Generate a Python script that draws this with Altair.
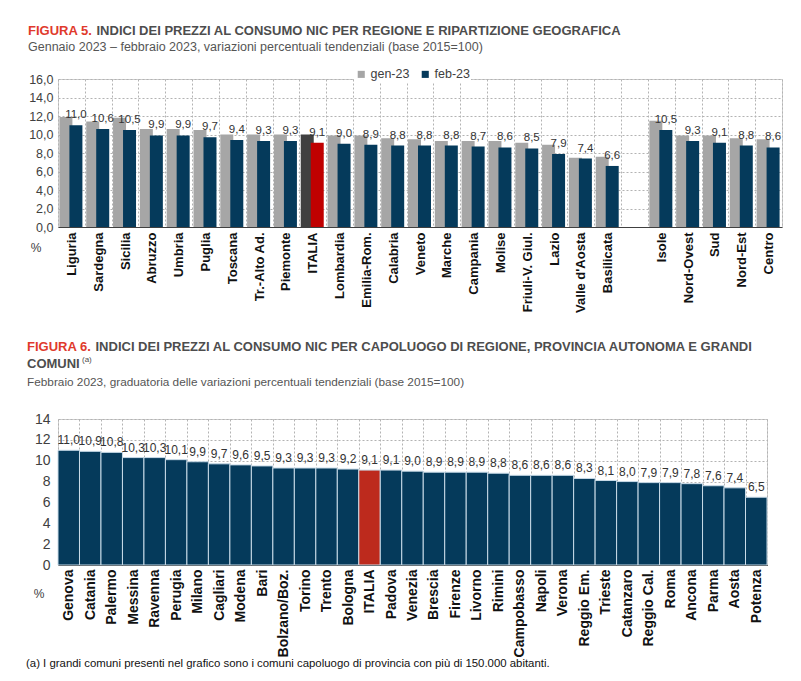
import altair as alt
import pandas as pd

# ---------------- data: Figura 5 ----------------
regioni = ["Liguria", "Sardegna", "Sicilia", "Abruzzo", "Umbria", "Puglia", "Toscana",
           "Tr.-Alto Ad.", "Piemonte", "ITALIA", "Lombardia", "Emilia-Rom.", "Calabria",
           "Veneto", "Marche", "Campania", "Molise", "Friuli-V. Giul.", "Lazio",
           "Valle d'Aosta", "Basilicata", " ", "Isole", "Nord-Ovest", "Sud", "Nord-Est", "Centro"]
gen23 = [11.9, 11.4, 11.8, 10.6, 10.6, 10.5, 10.0, 10.0, 10.0, 10.0, 9.9, 9.9, 9.6,
         9.5, 9.3, 9.3, 9.3, 9.1, 8.9, 7.5, 7.6, None, 11.5, 9.9, 9.9, 9.6, 9.5]
feb23 = [11.0, 10.6, 10.5, 9.9, 9.9, 9.7, 9.4, 9.3, 9.3, 9.1, 9.0, 8.9, 8.8,
         8.8, 8.8, 8.7, 8.6, 8.5, 7.9, 7.4, 6.6, None, 10.5, 9.3, 9.1, 8.8, 8.6]
serie = ["gen-23", "feb-23"]

# ---------------- data: Figura 6 ----------------
comuni = ["Genova", "Catania", "Palermo", "Messina", "Ravenna", "Perugia", "Milano",
          "Cagliari", "Modena", "Bari", "Bolzano/Boz.", "Torino", "Trento", "Bologna",
          "ITALIA", "Padova", "Venezia", "Brescia", "Firenze", "Livorno", "Rimini",
          "Campobasso", "Napoli", "Verona", "Reggio Em.", "Trieste", "Catanzaro",
          "Reggio Cal.", "Roma", "Ancona", "Parma", "Aosta", "Potenza"]
feb23_comuni = [11.0, 10.9, 10.8, 10.3, 10.3, 10.1, 9.9, 9.7, 9.6, 9.5, 9.3, 9.3, 9.3,
                9.2, 9.1, 9.1, 9.0, 8.9, 8.9, 8.9, 8.8, 8.6, 8.6, 8.6, 8.3, 8.1, 8.0,
                7.9, 7.9, 7.8, 7.6, 7.4, 6.5]

# ---------------- styles ----------------
NARROW = "'Liberation Sans Narrow', 'Arial Narrow', 'Liberation Sans', sans-serif"
SANS = "'Liberation Sans', Arial, sans-serif"
GRAY = "#a6a6a6"
NAVY = "#053a5b"
ITA_GEN = "#404040"
ITA_FEB = "#c00000"
RED6 = "#bd2a1d"
TITLE_RED = "#e03a2c"
TITLE_GRAY = "#4d4d4d"
GRID = "#b3b3b3"

W5, H5 = 724, 148
W6, H6 = 709, 146

rows5 = []
for r, g, f in zip(regioni, gen23, feb23):
    if g is None:
        continue
    rows5.append({"regione": r, "serie": serie[0], "valore": g,
                  "chiave": "ITALIA gen" if r == "ITALIA" else serie[0]})
    rows5.append({"regione": r, "serie": serie[1], "valore": f,
                  "chiave": "ITALIA feb" if r == "ITALIA" else serie[1]})
df5 = pd.DataFrame(rows5)

df6 = pd.DataFrame({"comune": comuni, "valore6": feb23_comuni,
                    "tipo": ["ITALIA" if c == "ITALIA" else "comune" for c in comuni]})

LABEL_EXPR = "replace(format(datum.value, '.1f'), '.', ',')"


def txt(text, x, y, size, color, weight="normal", font=NARROW, align="left", baseline="alphabetic"):
    return alt.Chart(alt.Data(values=[{"a": 0}])).mark_text(
        text=text, align=align, baseline=baseline, font=font, fontSize=size,
        fontWeight=weight, color=color
    ).encode(x=alt.value(x), y=alt.value(y))


# ---------------- Figura 5 ----------------
x5 = alt.X("regione:N", title=None,
           scale=alt.Scale(domain=regioni, paddingInner=0, paddingOuter=0),
           axis=alt.Axis(labelAngle=270, labelFont=NARROW, labelFontSize=13,
                         labelFontWeight="bold", labelColor="#111111", labelPadding=5,
                         ticks=False, tickBand="extent", grid=True, gridDash=[2, 2],
                         gridColor=GRID, domainColor="#404040", domainWidth=1.2,
                         labelOverlap=False))
y5 = alt.Y("valore:Q", title=None,
           scale=alt.Scale(domain=[0, 16], nice=False),
           axis=alt.Axis(values=list(range(0, 17, 2)), labelExpr=LABEL_EXPR,
                         labelFont=NARROW, labelFontSize=12.5, labelColor="#404040",
                         labelPadding=5, ticks=False, domain=False, grid=True,
                         gridDash=[2, 2], gridColor=GRID))
color5 = alt.Color("chiave:N",
                   scale=alt.Scale(domain=["gen-23", "feb-23", "ITALIA gen", "ITALIA feb"],
                                   range=[GRAY, NAVY, ITA_GEN, ITA_FEB]),
                   legend=alt.Legend(values=["gen-23", "feb-23"], title=None, orient="none",
                                     legendX=296, legendY=-12, direction="horizontal",
                                     symbolType="square", symbolSize=50, symbolStrokeWidth=0,
                                     labelFont=NARROW, labelFontSize=12.5, labelColor="#404040",
                                     labelOffset=3, columnPadding=9, fillColor="white",
                                     padding=1))

base5 = alt.Chart(df5)
gen_bars = base5.transform_filter("datum.serie == 'gen-23'").mark_bar(
    width=13, xOffset=-5.5).encode(x=x5, y=y5, color=color5)
feb_bars = base5.transform_filter("datum.serie == 'feb-23'").mark_bar(
    width=13, xOffset=4.5).encode(x=x5, y=y5, color=color5)
feb_labels = base5.transform_filter("datum.serie == 'feb-23'").transform_calculate(
    etichetta="replace(format(datum.valore, '.1f'), '.', ',')"
).mark_text(xOffset=4.5, dy=-5, baseline="bottom", font=NARROW, fontSize=11.5,
            color="#333333").encode(x=x5, y=y5, text="etichetta:N")

anchor = alt.Chart(alt.Data(values=[{"a": 0}])).mark_rule(strokeOpacity=0).encode(
    x=alt.value(-57), x2=alt.value(-56), y=alt.value(-78), y2=alt.value(-77))

fig5 = alt.layer(
    anchor,
    gen_bars, feb_bars, feb_labels,
    txt("FIGURA 5.", -30, -44.5, 13, TITLE_RED, "bold"),
    txt("INDICI DEI PREZZI AL CONSUMO NIC PER REGIONE E RIPARTIZIONE GEOGRAFICA",
        38.5, -44.5, 13, TITLE_GRAY, "bold"),
    txt("Gennaio 2023 \u2013 febbraio 2023, variazioni percentuali tendenziali (base 2015=100)",
        -30, -28.5, 12.5, "#555555"),
    txt("%", -22, 169, 12, "#404040", align="center", baseline="middle"),
).properties(width=W5, height=H5)

# ---------------- Figura 6 ----------------
x6 = alt.X("comune:N", title=None,
           scale=alt.Scale(domain=comuni, paddingInner=0, paddingOuter=0),
           axis=alt.Axis(labelAngle=270, labelFont=NARROW, labelFontSize=14,
                         labelFontWeight="bold", labelColor="#111111", labelPadding=4,
                         ticks=False, tickBand="extent", grid=True, gridDash=[2, 2],
                         gridColor=GRID, domainColor="#111111", domainWidth=1.2,
                         labelOverlap=False))
y6 = alt.Y("valore6:Q", title=None,
           scale=alt.Scale(domain=[0, 14], nice=False),
           axis=alt.Axis(values=list(range(0, 15, 2)), labelFont=NARROW, labelFontSize=14,
                         labelColor="#404040", labelPadding=8, ticks=False, domain=False,
                         grid=True, gridDash=[2, 2], gridColor=GRID))
color6 = alt.Color("tipo:N", scale=alt.Scale(domain=["comune", "ITALIA"], range=[NAVY, RED6]),
                   legend=None)

base6 = alt.Chart(df6)
bars6 = base6.mark_bar(stroke="#c9dbe8", strokeWidth=1).encode(x=x6, y=y6, color=color6)
labels6 = base6.transform_calculate(
    etichetta="replace(format(datum.valore6, '.1f'), '.', ',')"
).mark_text(dy=-3, baseline="bottom", font=NARROW, fontSize=12,
            color="#333333").encode(x=x6, y=y6, text="etichetta:N")

fig6 = alt.layer(
    bars6, labels6,
    txt("FIGURA 6.", -31, -68, 13, TITLE_RED, "bold"),
    txt("INDICI DEI PREZZI AL CONSUMO NIC PER CAPOLUOGO DI REGIONE, PROVINCIA AUTONOMA E GRANDI",
        37.5, -68, 13, TITLE_GRAY, "bold"),
    txt("COMUNI", -31, -51, 13, TITLE_GRAY, "bold"),
    txt("(a)", 24, -57, 8, TITLE_GRAY),
    txt("Febbraio 2023, graduatoria delle variazioni percentuali tendenziali (base 2015=100)",
        -31, -33, 11.8, "#555555"),
    txt("%", -19, 175, 12, "#404040", align="center", baseline="middle"),
    txt("(a)  I grandi comuni presenti nel grafico sono i comuni capoluogo di provincia con pi\u00f9 di 150.000 abitanti.",
        -32, 248, 11.4, "#111111", font=SANS),
).properties(width=W6, height=H6)

chart = alt.vconcat(fig5, fig6, spacing=192, bounds="flush").resolve_scale(
    color="independent"
).properties(
    padding=0, background="white"
).configure_view(stroke="#d0d0d0")

chart.save("out.html", embed_options={"renderer": "svg", "actions": False})
